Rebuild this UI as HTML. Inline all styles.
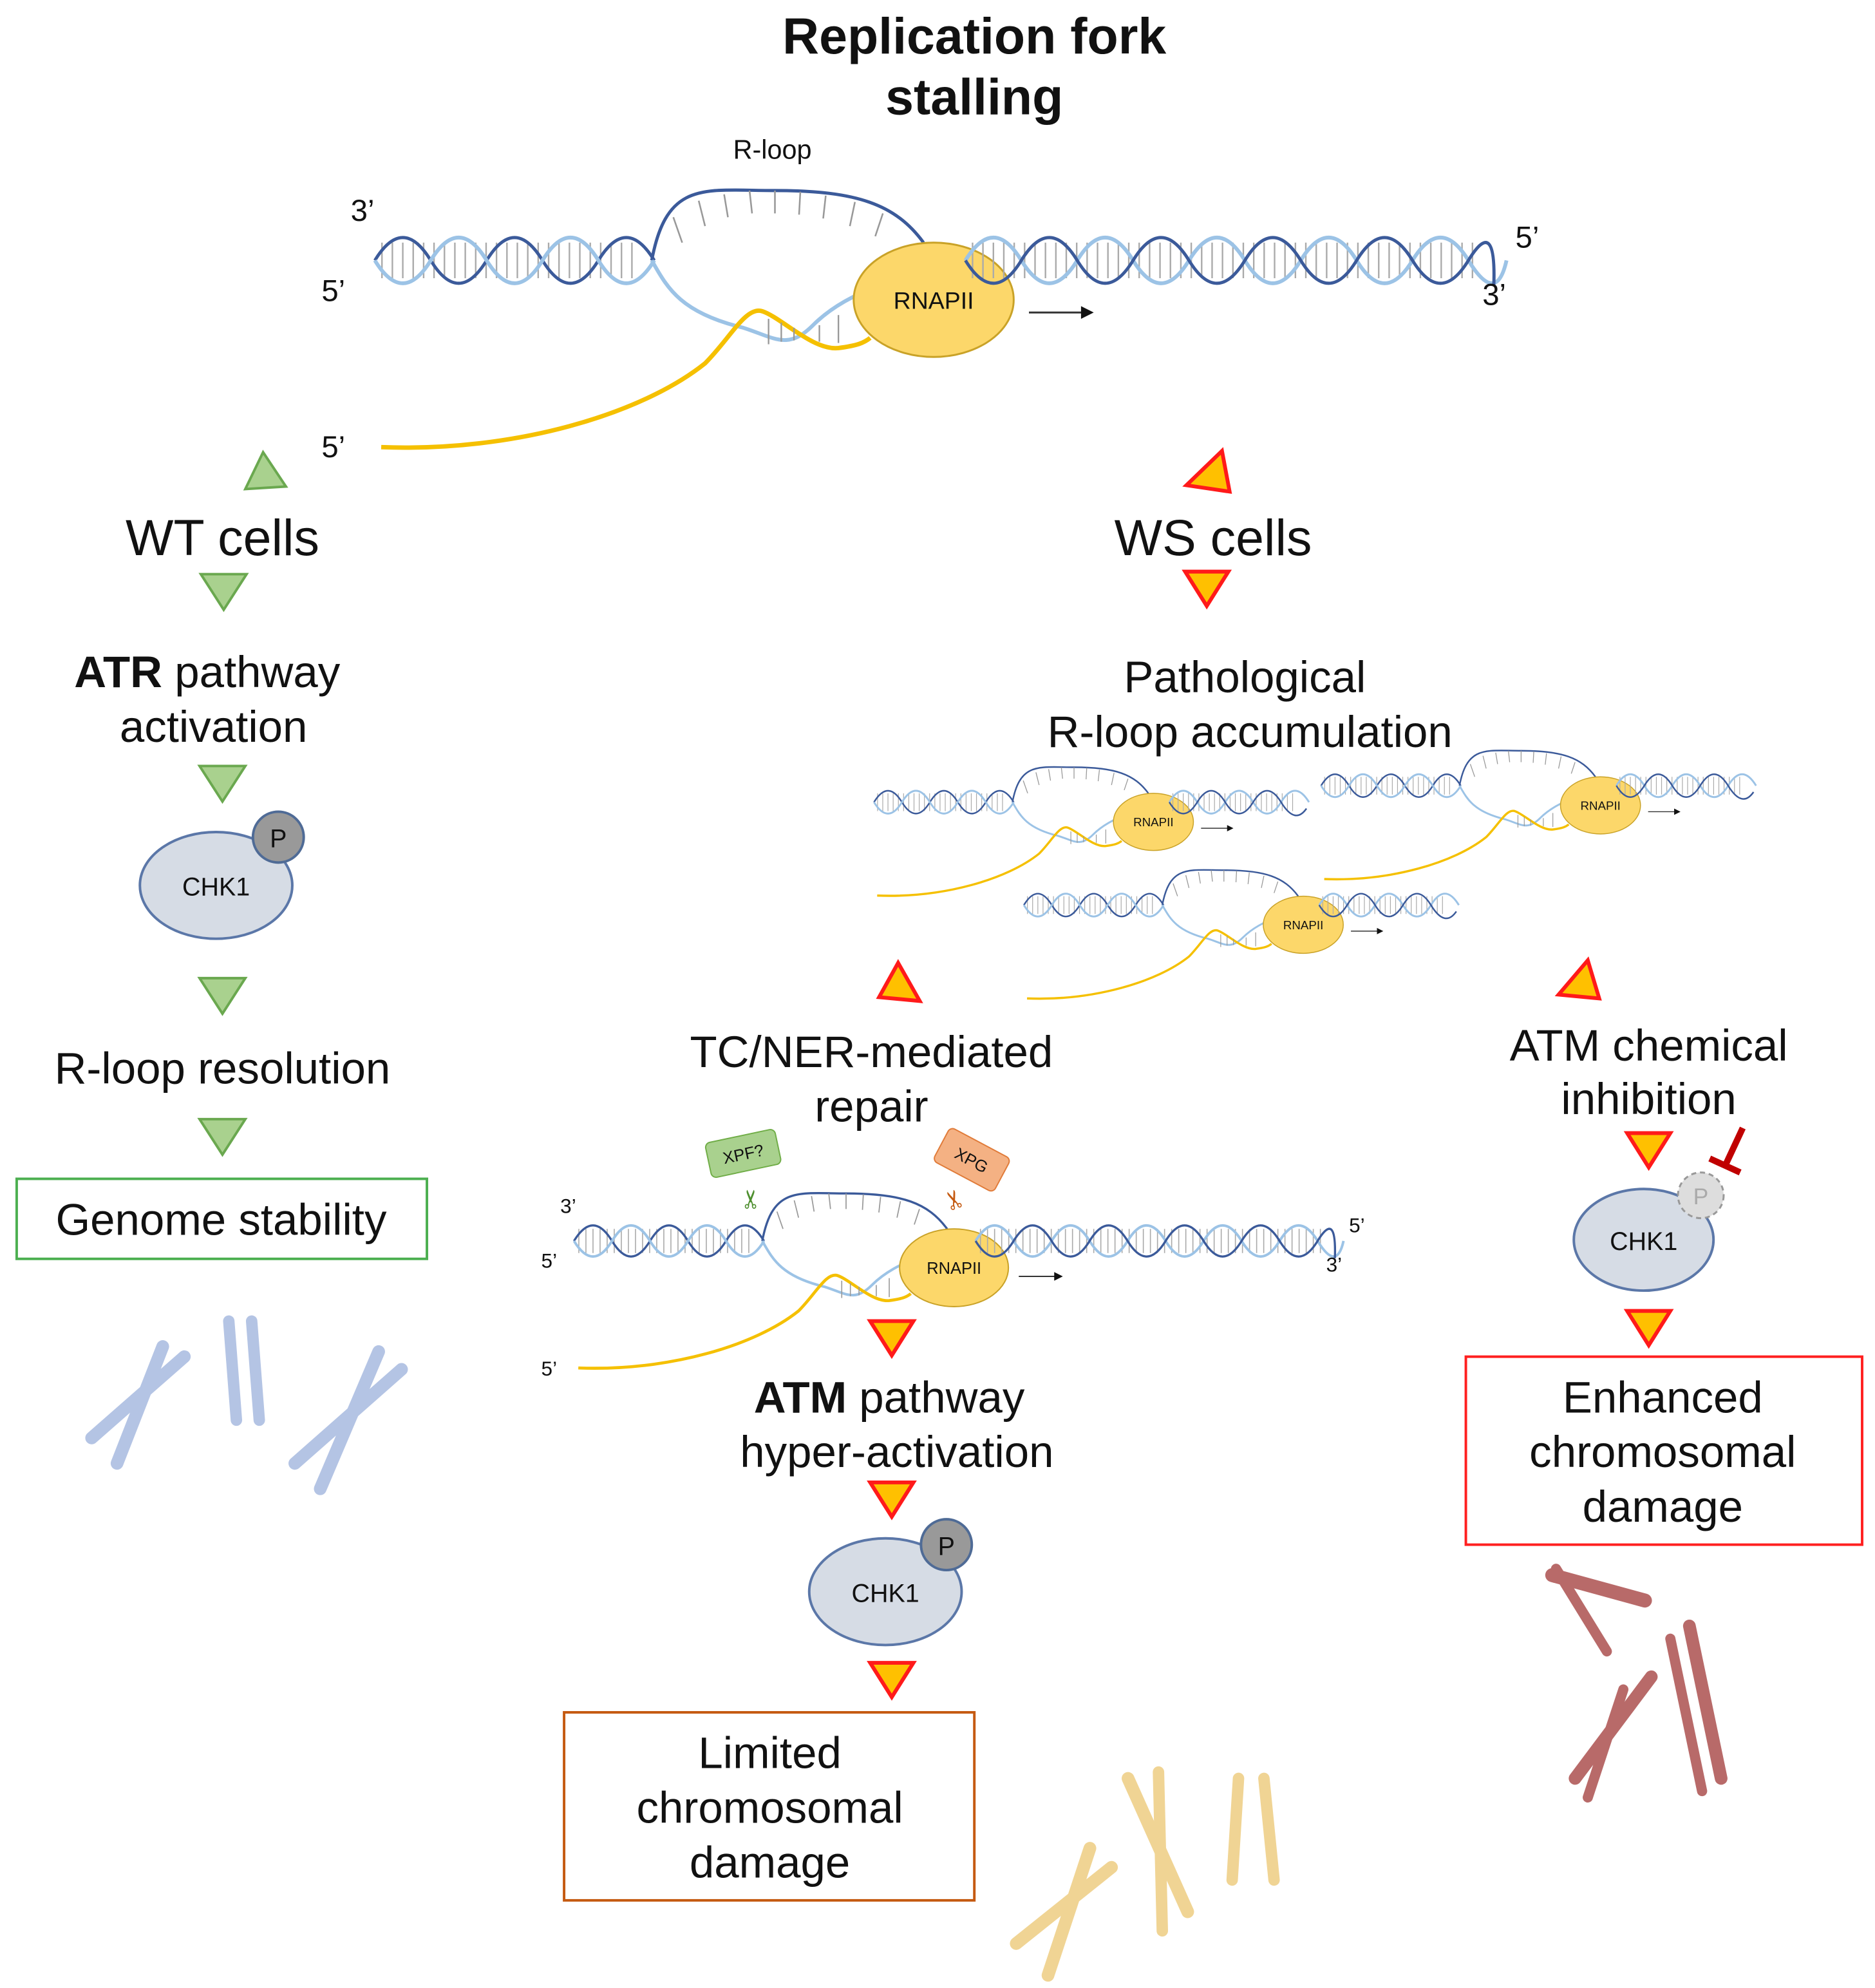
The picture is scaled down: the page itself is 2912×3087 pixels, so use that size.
<!DOCTYPE html>
<html><head><meta charset="utf-8"><style>
html,body{margin:0;padding:0;background:#fff}
svg{display:block}
text{font-family:"Liberation Sans",Arial,sans-serif;fill:#111}
</style></head><body>
<svg width="2912" height="3087" viewBox="0 0 1476 1565" xmlns="http://www.w3.org/2000/svg">
<defs>
<g id="core">
  <line x1="-435" y1="-31" x2="-235" y2="-31" stroke="#aaa" stroke-width="28" stroke-dasharray="1.2 7"/>
  <path d="M-440 -31 q22 -36 44 0 t44 0 t44 0 t44 0 t44 0" fill="none" stroke="#3b5a9a" stroke-width="2.5"/>
  <path d="M-440 -31 q22 36 44 0 t44 0 t44 0 t44 0 t44 0" fill="none" stroke="#9cc3e6" stroke-width="3"/>
  <path d="M-222 -31 C-210 -95 -180 -86 -125 -86 C-60 -86 -30 -75 -8 -45" fill="none" stroke="#3b5a9a" stroke-width="2.5"/>
  <g stroke="#999" stroke-width="1.3">
    <line x1="-205" y1="-65" x2="-198" y2="-45"/><line x1="-185" y1="-78" x2="-180" y2="-58"/>
    <line x1="-165" y1="-83" x2="-162" y2="-65"/><line x1="-145" y1="-86" x2="-143" y2="-68"/>
    <line x1="-125" y1="-86" x2="-125" y2="-68"/><line x1="-105" y1="-85" x2="-106" y2="-67"/>
    <line x1="-85" y1="-82" x2="-87" y2="-64"/><line x1="-62" y1="-77" x2="-66" y2="-58"/>
    <line x1="-40" y1="-68" x2="-46" y2="-50"/>
  </g>
  <path d="M-222 -31 C-210 -10 -200 10 -150 22 C-125 30 -115 40 -95 20 C-80 5 -60 -5 -45 -10" fill="none" stroke="#9cc3e6" stroke-width="3"/>
  <path d="M-435 116 C-330 120 -230 90 -180 50 C-160 30 -148 5 -135 9 C-120 14 -95 40 -75 38 C-60 36 -55 34 -50 30" fill="none" stroke="#f5c000" stroke-width="3.5"/>
  <g stroke="#999" stroke-width="1.2">
    <line x1="-130" y1="15" x2="-130" y2="35"/><line x1="-120" y1="18" x2="-120" y2="33"/><line x1="-110" y1="22" x2="-110" y2="32"/>
    <line x1="-90" y1="20" x2="-90" y2="33"/><line x1="-75" y1="12" x2="-75" y2="34"/>
  </g>
  <ellipse cx="0" cy="0" rx="63" ry="45" fill="#fcd76a" stroke="#c9a227" stroke-width="1.5"/>
  <text x="0" y="7" font-size="19" text-anchor="middle">RNAPII</text>
  <line x1="75" y1="10" x2="118" y2="10" stroke="#333" stroke-width="1.5"/>
  <path d="M116 5 L126 10 L116 15 Z" fill="#111"/>
</g>
<g id="rlong">
  <line x1="30" y1="-31" x2="430" y2="-31" stroke="#aaa" stroke-width="28" stroke-dasharray="1.2 7"/>
  <path d="M25 -31 q22 -36 44 0 t44 0 t44 0 t44 0 t44 0 t44 0 t44 0 t44 0 t44 0 t30 0" fill="none" stroke="#9cc3e6" stroke-width="3"/>
  <path d="M25 -31 q22 36 44 0 t44 0 t44 0 t44 0 t44 0 t44 0 t44 0 t44 0 t44 0 t20 20" fill="none" stroke="#3b5a9a" stroke-width="2.5"/>
</g>
<g id="rshort">
  <line x1="30" y1="-31" x2="220" y2="-31" stroke="#aaa" stroke-width="28" stroke-dasharray="1.2 7"/>
  <path d="M25 -31 q22 -36 44 0 t44 0 t44 0 t44 0 t44 0" fill="none" stroke="#9cc3e6" stroke-width="3"/>
  <path d="M25 -31 q22 36 44 0 t44 0 t44 0 t44 0 t40 10" fill="none" stroke="#3b5a9a" stroke-width="2.5"/>
</g>
<path id="gdown" d="M-18 -14 L18 -14 L0 14 Z" fill="#a9d18e" stroke="#6aa84f" stroke-width="2"/>
<path id="rdown" d="M-17 -13 L17 -13 L0 14 Z" fill="#ffc000" stroke="#ff1a1a" stroke-width="3"/>
</defs>

<!-- Title -->
<text x="767" y="42" font-size="40" font-weight="bold" text-anchor="middle">Replication fork</text>
<text x="767" y="90" font-size="40" font-weight="bold" text-anchor="middle">stalling</text>
<text x="608" y="125" font-size="21" text-anchor="middle">R-loop</text>

<g transform="translate(735,236)"><use href="#core"/><use href="#rlong"/></g>
<text x="276" y="174" font-size="24">3’</text>
<text x="253" y="237" font-size="24">5’</text>
<text x="253" y="360" font-size="24">5’</text>
<text x="1193" y="195" font-size="24">5’</text>
<text x="1167" y="240" font-size="24">3’</text>

<!-- WT branch -->
<path d="M193 385 L225 383 L207 356 Z" fill="#a9d18e" stroke="#6aa84f" stroke-width="2"/>
<text x="175" y="437" font-size="40" text-anchor="middle">WT cells</text>
<use href="#gdown" x="176" y="466"/>
<text x="163" y="541" font-size="35" text-anchor="middle"><tspan font-weight="bold">ATR</tspan> pathway</text>
<text x="168" y="584" font-size="35" text-anchor="middle">activation</text>
<use href="#gdown" x="175" y="617"/>
<ellipse cx="170" cy="697" rx="60" ry="42" fill="#d6dce5" stroke="#5b77a8" stroke-width="2"/>
<circle cx="219" cy="659" r="20" fill="#999" stroke="#4f6b96" stroke-width="2"/>
<text x="219" y="667" font-size="20" text-anchor="middle">P</text>
<text x="170" y="705" font-size="20" text-anchor="middle">CHK1</text>
<use href="#gdown" x="175" y="784"/>
<text x="175" y="853" font-size="35" text-anchor="middle">R-loop resolution</text>
<use href="#gdown" x="175" y="895"/>
<rect x="13" y="928" width="323" height="63" fill="#fff" stroke="#4caf50" stroke-width="2"/>
<text x="174" y="972" font-size="35" text-anchor="middle">Genome stability</text>
<g stroke="#b4c4e4" stroke-linecap="round" fill="none">
  <line x1="72" y1="1132" x2="145" y2="1068" stroke-width="10"/><line x1="92" y1="1152" x2="128" y2="1060" stroke-width="10"/>
  <line x1="180" y1="1040" x2="186" y2="1118" stroke-width="9"/><line x1="198" y1="1040" x2="204" y2="1118" stroke-width="9"/>
  <line x1="232" y1="1152" x2="316" y2="1078" stroke-width="10"/><line x1="252" y1="1172" x2="298" y2="1064" stroke-width="10"/>
</g>

<!-- WS branch -->
<path d="M934 382 L968 387 L962 355 Z" fill="#ffc000" stroke="#ff1a1a" stroke-width="3"/>
<text x="955" y="437" font-size="40" text-anchor="middle">WS cells</text>
<use href="#rdown" x="950" y="463"/>
<text x="980" y="545" font-size="35" text-anchor="middle">Pathological</text>
<text x="984" y="588" font-size="35" text-anchor="middle">R-loop accumulation</text>
<g transform="translate(908,647) scale(0.5)"><use href="#core"/><use href="#rshort"/></g>
<g transform="translate(1260,634) scale(0.5)"><use href="#core"/><use href="#rshort"/></g>
<g transform="translate(1026,728) scale(0.5)"><use href="#core"/><use href="#rshort"/></g>

<path d="M692 785 L724 788 L707 758 Z" fill="#ffc000" stroke="#ff1a1a" stroke-width="3"/>
<path d="M1227 783 L1259 786 L1250 756 Z" fill="#ffc000" stroke="#ff1a1a" stroke-width="3"/>

<text x="686" y="840" font-size="35" text-anchor="middle">TC/NER-mediated</text>
<text x="686" y="883" font-size="35" text-anchor="middle">repair</text>
<text x="1298" y="835" font-size="35" text-anchor="middle">ATM chemical</text>
<text x="1298" y="877" font-size="35" text-anchor="middle">inhibition</text>

<!-- repair DNA -->
<g transform="translate(751,998) scale(0.68)"><use href="#core"/><use href="#rlong"/></g>
<text x="441" y="955" font-size="16">3’</text>
<text x="426" y="998" font-size="16">5’</text>
<text x="426" y="1083" font-size="16">5’</text>
<text x="1062" y="970" font-size="16">5’</text>
<text x="1044" y="1001" font-size="16">3’</text>
<g transform="translate(585,908) rotate(-12)">
  <rect x="-28" y="-14" width="56" height="28" rx="4" fill="#a9d18e" stroke="#70ad47"/>
  <text x="0" y="5" font-size="13" text-anchor="middle">XPF?</text>
</g>
<text x="592" y="950" font-size="20" style="fill:#4e8f2f" text-anchor="middle" transform="rotate(-90 592 944)">✂</text>
<g transform="translate(765,913) rotate(28)">
  <rect x="-27" y="-15" width="54" height="30" rx="4" fill="#f4b183" stroke="#e07b39"/>
  <text x="0" y="5" font-size="13" text-anchor="middle">XPG</text>
</g>
<text x="752" y="950" font-size="20" style="fill:#c55a11" text-anchor="middle" transform="rotate(-110 752 944)">✂</text>

<use href="#rdown" x="702" y="1053"/>
<text x="700" y="1112" font-size="35" text-anchor="middle"><tspan font-weight="bold">ATM</tspan> pathway</text>
<text x="706" y="1155" font-size="35" text-anchor="middle">hyper-activation</text>
<use href="#rdown" x="702" y="1180"/>
<ellipse cx="697" cy="1253" rx="60" ry="42" fill="#d6dce5" stroke="#5b77a8" stroke-width="2"/>
<circle cx="745" cy="1216" r="20" fill="#999" stroke="#4f6b96" stroke-width="2"/>
<text x="745" y="1224" font-size="20" text-anchor="middle">P</text>
<text x="697" y="1261" font-size="20" text-anchor="middle">CHK1</text>
<use href="#rdown" x="702" y="1322"/>
<rect x="444" y="1348" width="323" height="148" fill="#fff" stroke="#c55a11" stroke-width="2"/>
<text x="606" y="1392" font-size="35" text-anchor="middle">Limited</text>
<text x="606" y="1435" font-size="35" text-anchor="middle">chromosomal</text>
<text x="606" y="1478" font-size="35" text-anchor="middle">damage</text>
<g stroke="#f0d494" stroke-linecap="round" fill="none">
  <line x1="800" y1="1530" x2="875" y2="1470" stroke-width="10"/><line x1="825" y1="1555" x2="858" y2="1455" stroke-width="10"/>
  <line x1="888" y1="1400" x2="935" y2="1505" stroke-width="10"/><line x1="912" y1="1395" x2="915" y2="1520" stroke-width="9"/>
  <line x1="975" y1="1400" x2="970" y2="1480" stroke-width="9"/><line x1="995" y1="1400" x2="1003" y2="1480" stroke-width="9"/>
</g>

<!-- right -->
<use href="#rdown" x="1298" y="905"/>
<ellipse cx="1294" cy="976" rx="55" ry="40" fill="#d6dce5" stroke="#5b77a8" stroke-width="2"/>
<circle cx="1339" cy="941" r="18" fill="#ddd" stroke="#999" stroke-width="1.5" stroke-dasharray="4 3"/>
<text x="1339" y="948" font-size="18" text-anchor="middle" style="fill:#aaa">P</text>
<text x="1294" y="984" font-size="20" text-anchor="middle">CHK1</text>
<line x1="1372" y1="888" x2="1358" y2="918" stroke="#c00000" stroke-width="5"/>
<line x1="1346" y1="912" x2="1370" y2="923" stroke="#c00000" stroke-width="5"/>
<use href="#rdown" x="1298" y="1045"/>
<rect x="1154" y="1068" width="312" height="148" fill="#fff" stroke="#ff2020" stroke-width="2"/>
<text x="1309" y="1112" font-size="35" text-anchor="middle">Enhanced</text>
<text x="1309" y="1155" font-size="35" text-anchor="middle">chromosomal</text>
<text x="1309" y="1198" font-size="35" text-anchor="middle">damage</text>
<g stroke="#b86a69" stroke-linecap="round" fill="none">
  <line x1="1222" y1="1240" x2="1295" y2="1260" stroke-width="11"/><line x1="1225" y1="1235" x2="1265" y2="1300" stroke-width="8"/>
  <line x1="1330" y1="1280" x2="1355" y2="1400" stroke-width="10"/><line x1="1315" y1="1290" x2="1340" y2="1410" stroke-width="8"/>
  <line x1="1240" y1="1400" x2="1300" y2="1320" stroke-width="10"/><line x1="1250" y1="1415" x2="1278" y2="1330" stroke-width="8"/>
</g>
</svg>
</body></html>
